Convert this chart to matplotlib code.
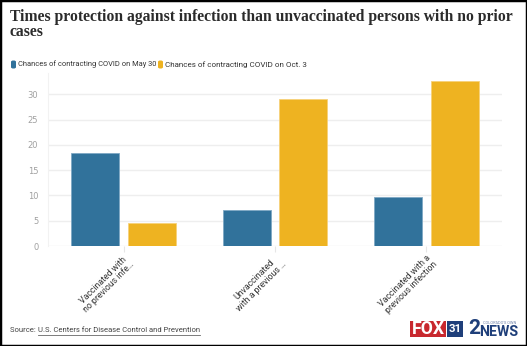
import matplotlib
matplotlib.use("Agg")
import matplotlib.pyplot as plt
from matplotlib.patches import Rectangle, FancyBboxPatch
from matplotlib import font_manager
import numpy as np

# Data
categories = ["Vaccinated with\nno previous infe…",
              "Unvaccinated\nwith a previous …",
              "Vaccinated with a\nprevious infection"]
may30 = [18.4, 7.2, 9.6]
oct3 = [4.5, 29.1, 32.6]
series_names = ["Chances of contracting COVID on May 30",
                "Chances of contracting COVID on Oct. 3"]
yticks = [0, 5, 10, 15, 20, 25, 30]
title = "Times protection against infection than unvaccinated persons with no prior\ncases"
source_label = "Source: "
source_name = "U.S. Centers for Disease Control and Prevention"

BLUE = "#31729b"
ORANGE = "#eeb321"
GRID = "#eeeeee"
TICK = "#a0a0a0"
NAVY = "#1f3f7a"

installed = {f.name for f in font_manager.fontManager.ttflist}
NARROW = "Liberation Sans Narrow" if "Liberation Sans Narrow" in installed else "Roboto"

W, H = 527, 346
fig = plt.figure(figsize=(W / 100, H / 100), dpi=100)
renderer = fig.canvas.get_renderer()


def px(xp, yp):
    return xp / W, 1 - yp / H


def fit_text(xp, yp, s, width_px, size, **kw):
    """Place text and rescale its size so its first line spans width_px."""
    t = fig.text(*px(xp, yp), s, fontsize=size, **kw)
    first = s.split("\n")[0]
    probe = fig.text(0, 0, first, fontsize=size, **{k: v for k, v in kw.items()
                                                    if k in ("family", "fontweight")})
    w = probe.get_window_extent(renderer).width
    probe.remove()
    t.set_fontsize(size * width_px / w)
    return t


# Plot area in pixel coordinates
left, right, top, bottom = 48, 502, 73, 246
ax = fig.add_axes([left / W, 1 - bottom / H, (right - left) / W, (bottom - top) / H])

x = np.arange(len(categories))
bw = 0.317
off = 0.187
ax.bar(x - off, may30, width=bw, color=BLUE, edgecolor="#7fa8c4", linewidth=0.6, zorder=3)
ax.bar(x + off, oct3, width=bw, color=ORANGE, edgecolor="#f6d27a", linewidth=0.6, zorder=3)

ax.set_xlim(-0.5, len(categories) - 0.5)
ax.set_ylim(0, 34.2)
ax.set_yticks(yticks)
ax.set_yticklabels([str(v) for v in yticks])
ax.grid(axis="y", color=GRID, linewidth=1.0, zorder=0)
for s in ["top", "right", "bottom"]:
    ax.spines[s].set_visible(False)
ax.spines["left"].set_color("#f2f2f2")
ax.spines["left"].set_linewidth(0.8)
ax.tick_params(axis="y", length=0, pad=7, labelsize=6, labelcolor=TICK)
ax.tick_params(axis="x", length=4, color="#e6e6e6", width=0.8, pad=1)
ax.set_xticks(x)
ax.set_xticklabels(categories, rotation=45, ha="right", va="top",
                   rotation_mode="anchor", fontsize=6.3, color="#333333",
                   multialignment="center", linespacing=1.0, family=NARROW)

# Title
fit_text(10, 9, title, 500, 11, ha="left", va="top", fontweight="bold",
         family="Liberation Serif", color="#2b2b2b", linespacing=0.92)

# Legend
for name, col, tx, tw in [(series_names[0], BLUE, 11, 137), (series_names[1], ORANGE, 158, 141)]:
    fig.patches.append(FancyBboxPatch(px(tx, 68.5), 5 / W, 8 / H,
                                      boxstyle="round,pad=0,rounding_size=0.004",
                                      transform=fig.transFigure, facecolor=col,
                                      edgecolor="none"))
    fit_text(tx + 7, 64.5, name, tw, 6.5, ha="left", va="center",
             color="#333333", family=NARROW)

# Source line
t1 = fit_text(10, 330, source_label + source_name, 190, 7, ha="left", va="center",
              color="#444444", family=NARROW)
t1.set_text(source_label)
fig.canvas.draw()
bb = t1.get_window_extent(renderer)
t2 = fig.text(bb.x1 / W, 1 - 330 / H, source_name, ha="left", va="center",
              fontsize=t1.get_fontsize(), color="#444444", family=NARROW)
bb2 = t2.get_window_extent(renderer)
fig.add_artist(plt.Line2D([bb2.x0 / W, bb2.x1 / W], [1 - 334.5 / H, 1 - 334.5 / H],
                          transform=fig.transFigure, color="#666666", linewidth=0.6))


# Station logo
def box(x0, y0, x1, y1, col):
    fig.patches.append(Rectangle(px(x0, y1), (x1 - x0) / W, (y1 - y0) / H,
                                 transform=fig.transFigure, facecolor=col, edgecolor="none"))


box(410, 321, 446, 337, "#c8282e")
box(447, 321, 463, 337, NAVY)
fit_text(411.5, 329.5, "FOX", 33, 11, ha="left", va="center",
         fontweight="bold", color="white", family=NARROW)
fit_text(448.5, 329.5, "31", 13, 11, ha="left", va="center",
         fontweight="bold", color="white", family=NARROW)
fig.text(*px(474, 329), "2", ha="center", va="center", fontsize=15,
         fontweight="bold", color=NAVY, family=NARROW)
fit_text(479, 331.5, "NEWS", 39, 10, ha="left", va="center",
         fontweight="bold", color=NAVY, family=NARROW)
fit_text(483, 322.5, "COLORADO'S OWN", 33, 3, ha="left", va="center",
         color="#6a7fa8", family=NARROW)

# Outer frame
fig.patches.append(Rectangle((0, 0), 1, 1, transform=fig.transFigure, fill=False,
                             edgecolor="black", linewidth=2.5))

fig.savefig("out.png", dpi=100)
